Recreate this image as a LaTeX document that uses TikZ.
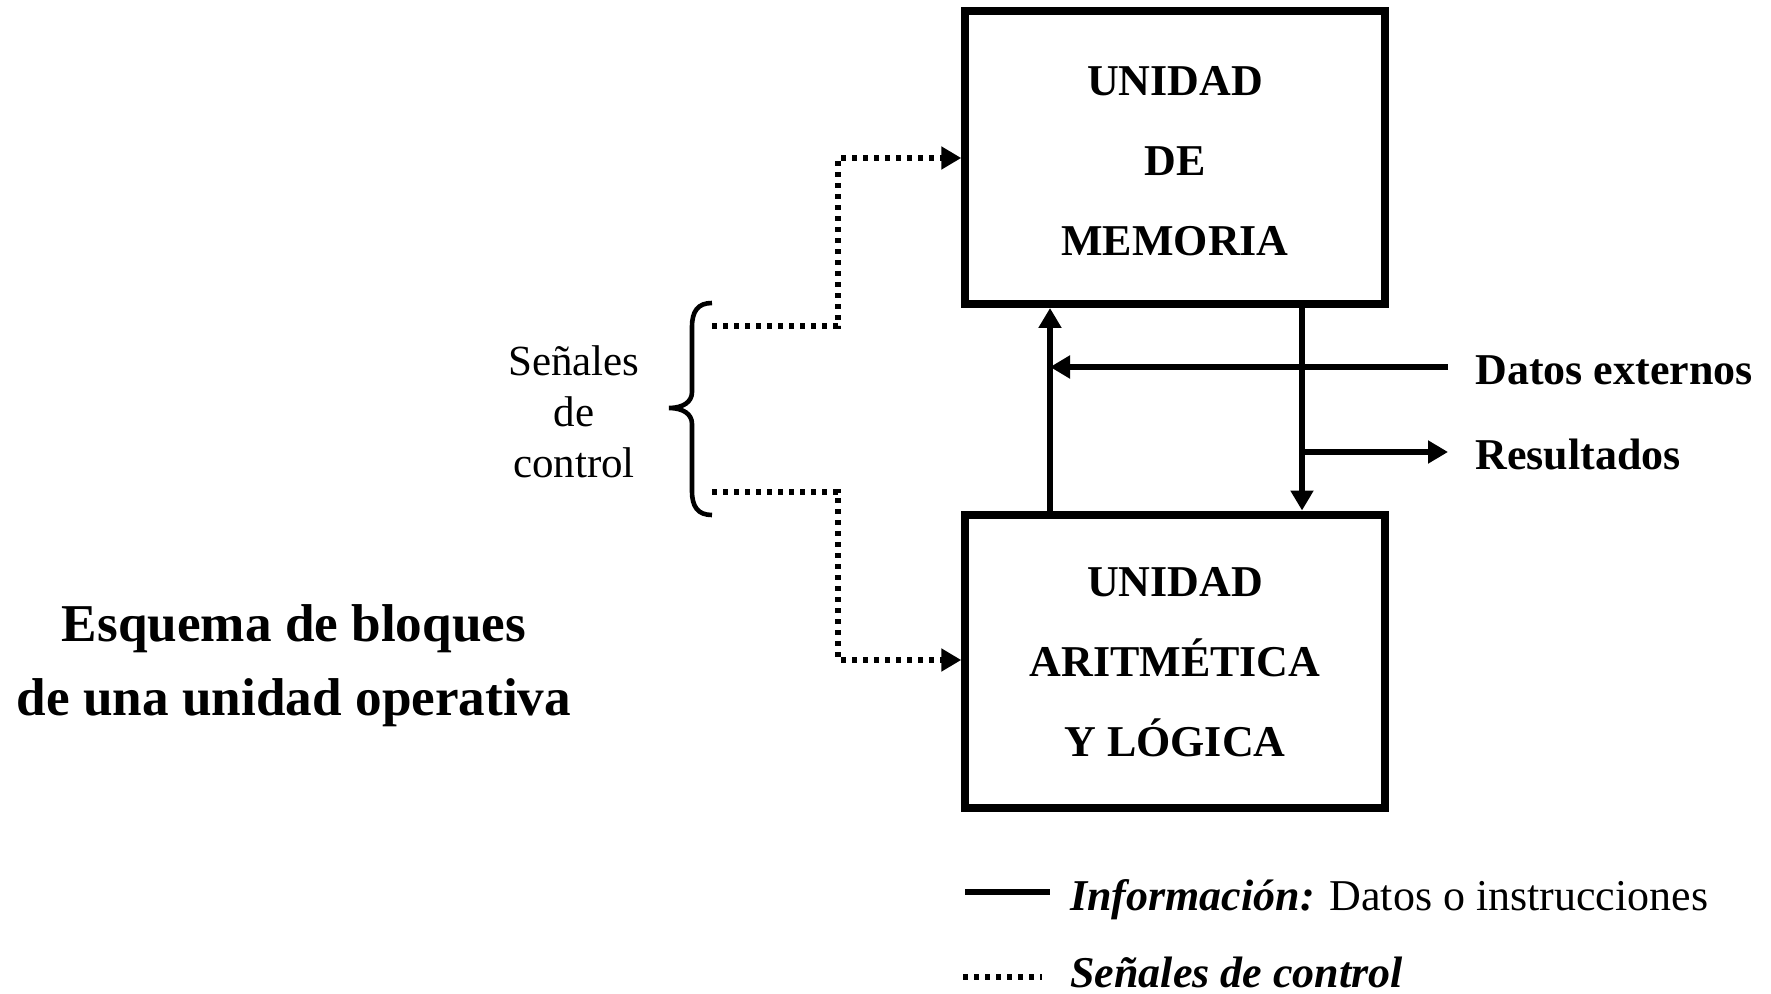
\documentclass[tikz,border=0pt]{standalone}
\usepackage{fontspec}
\setmainfont{Liberation Serif}
\usetikzlibrary{arrows.meta}
\begin{document}
\begin{tikzpicture}[x=0.5pt,y=-0.5pt,
  unitbox/.style={draw, line width=4pt, minimum width=209.75pt, minimum height=146.5pt,
    inner sep=0pt, align=center, font=\bfseries\fontsize{22}{40}\selectfont},
  info/.style={line width=2.8pt},
  ctrl/.style={line width=2.6pt, dash pattern=on 2.6pt off 2.9pt},
  tip/.style={-{Triangle[length=10pt,width=11pt]}},
  lbl/.style={inner sep=0pt, anchor=base west, font=\bfseries\fontsize{22}{26}\selectfont}]
\useasboundingbox (0,0) rectangle (1771,994);

% functional blocks
\node[unitbox] (mem) at (1175,157.5) {UNIDAD\rule{0pt}{18.6pt}\\DE\\MEMORIA};
\node[unitbox] (alu) at (1175,661) {UNIDAD\rule{0pt}{15.8pt}\\ARITMÉTICA\\Y LÓGICA};

% data paths between the blocks
\coordinate (upx) at (1050,0);
\coordinate (dnx) at (1302,0);
\draw[info,tip] (alu.north -| upx) -- (mem.south -| upx);
\draw[info,tip] (mem.south -| dnx) -- (alu.north -| dnx);

% external data in, results out
\node[lbl] (datos) at (1475,385) {Datos externos};
\node[lbl] (res) at (1475,469) {Resultados};
\coordinate (dsrc) at (1448,367);
\coordinate (rdst) at (1448,452);
\draw[info,tip] (dsrc) -- (dsrc -| upx);
\draw[info,tip] (rdst -| dnx) -- (rdst);

% control signals
\draw[line width=2.3pt] (712,303) .. controls (698,303) and (692,311) .. (692,327)
  -- (692,392) .. controls (692,402) and (683,408) .. (669,408)
  .. controls (683,408) and (692,414) .. (692,424)
  -- (692,491) .. controls (692,507) and (698,515) .. (712,515);
\node[font=\fontsize{21.5}{25.5}\selectfont, align=center, inner sep=0pt] (sig) at (574,412) {Señales\\de\\control};
\coordinate (bt) at (712,326);
\coordinate (bb) at (712,492);
\coordinate (cx) at (838,0);
\coordinate (cm) at (0,158);
\coordinate (ca) at (0,660);
\draw[ctrl,tip] (bt) -- (bt -| cx) -- (cx |- cm) -- (mem.west |- cm);
\draw[ctrl,tip] (bb) -- (bb -| cx) -- (cx |- ca) -- (alu.west |- ca);

% caption
\node[font=\bfseries\fontsize{26.6}{37}\selectfont, align=center, inner sep=0pt] (title) at (294,666)
  {Esquema de bloques\\de una unidad operativa};

% legend
\coordinate (l1a) at (965,892);
\coordinate (l1b) at (1050,892);
\draw[info] (l1a) -- (l1b);
\node[lbl, font=\fontsize{22}{26}\selectfont] (leg1) at (1070,910)
  {\textbf{\textit{Información:}} Datos o instrucciones};
\coordinate (l2a) at (963,977);
\coordinate (l2b) at (1042,977);
\draw[ctrl] (l2a) -- (l2b);
\node[lbl] (leg2) at (1070,987) {\textit{Señales de control}};
\end{tikzpicture}
\end{document}
